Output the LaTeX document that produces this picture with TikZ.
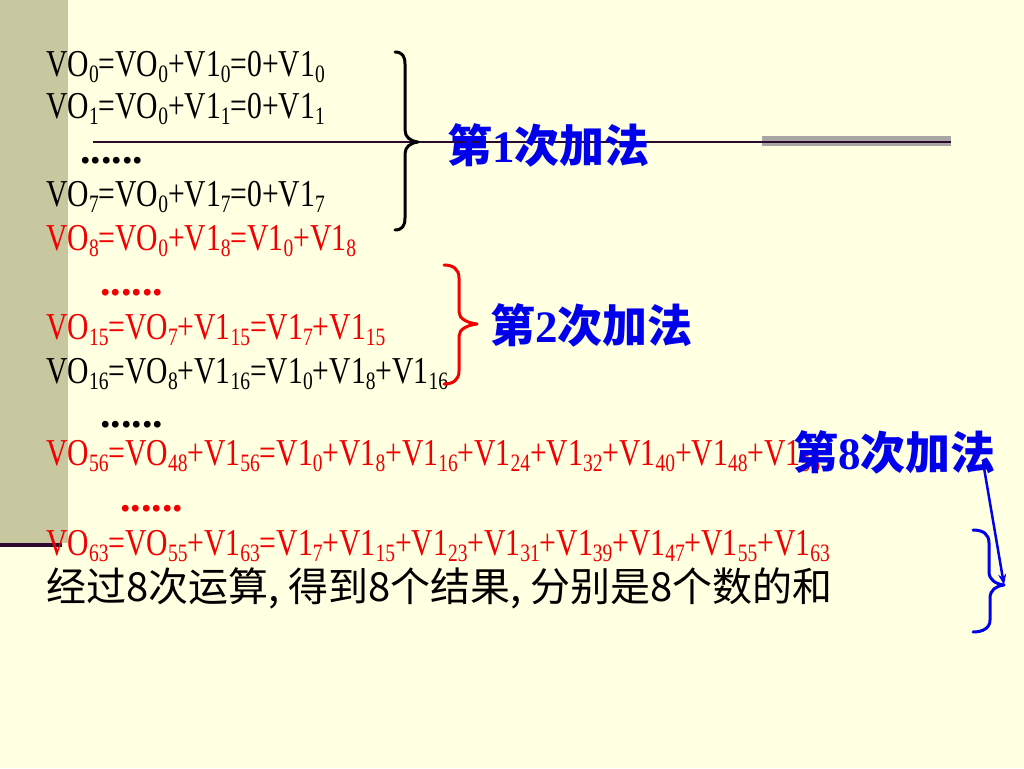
\documentclass[tikz,border=0pt]{standalone}
\usepackage{fontspec}
\setmainfont{Liberation Serif}
\newfontfamily\eqfont[FakeStretch=0.78]{Liberation Serif}
\newfontfamily\cjk{Noto Sans CJK SC}
\usetikzlibrary{arrows.meta}
\definecolor{bgyellow}{RGB}{255,255,225}
\definecolor{barolive}{RGB}{200,200,160}
\definecolor{darkplum}{RGB}{45,10,45}
\definecolor{graybar}{RGB}{168,166,162}
\definecolor{eqred}{RGB}{240,0,0}
\definecolor{lblblue}{RGB}{0,0,235}
\newcommand\lo[1]{\raisebox{-6pt}{\fontsize{25}{25}\selectfont #1}}
\tikzset{
  eq/.style={anchor=base west, inner sep=0pt, font=\eqfont\fontsize{38}{38}\selectfont},
  dotrow/.style={anchor=base west, inner sep=0pt, font=\rmfamily\bfseries\fontsize{42}{42}\selectfont},
  lbl/.style={anchor=west, inner sep=0pt, text=lblblue, font=\cjk\bfseries\fontsize{45}{45}\selectfont},
  brace/.style={line width=3pt, line cap=round, line join=round},
}
\begin{document}
\begin{tikzpicture}[x=1pt,y=-1pt]
\useasboundingbox (0,0) rectangle (1024,768);
% background
\fill[bgyellow] (0,0) rectangle (1024,768);
\fill[barolive] (0,0) rectangle (68,543);
\fill[graybar] (762,136) rectangle (951,146);
\draw[darkplum, line width=2.2pt] (93,142) -- (951,142);
\draw[darkplum, line width=4pt] (0,545) -- (62,545);
% equations
\node[eq] (l1) at (46,76) {VO\lo{0}=VO\lo{0}+V1\lo{0}=0+V1\lo{0}};
\node[eq] (l2) at (46,118) {VO\lo{1}=VO\lo{0}+V1\lo{1}=0+V1\lo{1}};
\node[dotrow] (d1) at (80,163) {......};
\node[eq] (l4) at (46,206) {VO\lo{7}=VO\lo{0}+V1\lo{7}=0+V1\lo{7}};
\node[eq, text=eqred] (l5) at (46,250) {VO\lo{8}=VO\lo{0}+V1\lo{8}=V1\lo{0}+V1\lo{8}};
\node[dotrow, text=eqred] (d2) at (100,295) {......};
\node[eq, text=eqred] (l7) at (46,339) {VO\lo{15}=VO\lo{7}+V1\lo{15}=V1\lo{7}+V1\lo{15}};
\node[eq] (l8) at (46,383) {VO\lo{16}=VO\lo{8}+V1\lo{16}=V1\lo{0}+V1\lo{8}+V1\lo{16}};
\node[dotrow] (d3) at (100,427) {......};
\node[eq, text=eqred] (l10) at (46,465) {VO\lo{56}=VO\lo{48}+V1\lo{56}=V1\lo{0}+V1\lo{8}+V1\lo{16}+V1\lo{24}+V1\lo{32}+V1\lo{40}+V1\lo{48}+V1\lo{56}};
\node[dotrow, text=eqred] (d4) at (120,511) {......};
\node[eq, text=eqred] (l12) at (46,555) {VO\lo{63}=VO\lo{55}+V1\lo{63}=V1\lo{7}+V1\lo{15}+V1\lo{23}+V1\lo{31}+V1\lo{39}+V1\lo{47}+V1\lo{55}+V1\lo{63}};
\node[anchor=base west, inner sep=0pt, font=\cjk\fontsize{40}{40}\selectfont] (sum) at (46,601) {经过8次运算, 得到8个结果, 分别是8个数的和};
% braces
\coordinate (b1tip) at (418,142);
\draw[brace, black] (395,52) .. controls (402,52) and (405,56) .. (405,64) -- (405,130)
  .. controls (405,137) and (410,141) .. (b1tip)
  .. controls (410,143) and (405,147) .. (405,154) -- (405,218)
  .. controls (405,226) and (402,230) .. (395,230);
\coordinate (b2tip) at (477,324);
\draw[brace, eqred] (444,265) .. controls (453,265) and (459,269) .. (459,278) -- (459,312)
  .. controls (459,319) and (468,323) .. (b2tip)
  .. controls (468,325) and (459,329) .. (459,336) -- (459,371)
  .. controls (459,380) and (453,384) .. (444,384);
\coordinate (b3tip) at (1004,585);
\draw[brace, lblblue] (973,530) .. controls (983,530) and (989,534) .. (989,543) -- (989,572)
  .. controls (989,580) and (996,584) .. (b3tip)
  .. controls (996,586) and (990,590) .. (990,598) -- (990,620)
  .. controls (990,628) and (983,632) .. (973,632);
% labels
\node[lbl] (t1) at (447,145) {第{\rmfamily\bfseries 1}次加法};
\node[lbl] (t2) at (490,325) {第{\rmfamily\bfseries 2}次加法};
\node[lbl] (t8) at (793,452) {第{\rmfamily\bfseries 8}次加法};
\coordinate (arrstart) at (983,462);
\draw[lblblue, line width=2.5pt, -{Stealth[length=11pt,width=8pt]}] (arrstart) -- (b3tip);
\end{tikzpicture}
\end{document}
